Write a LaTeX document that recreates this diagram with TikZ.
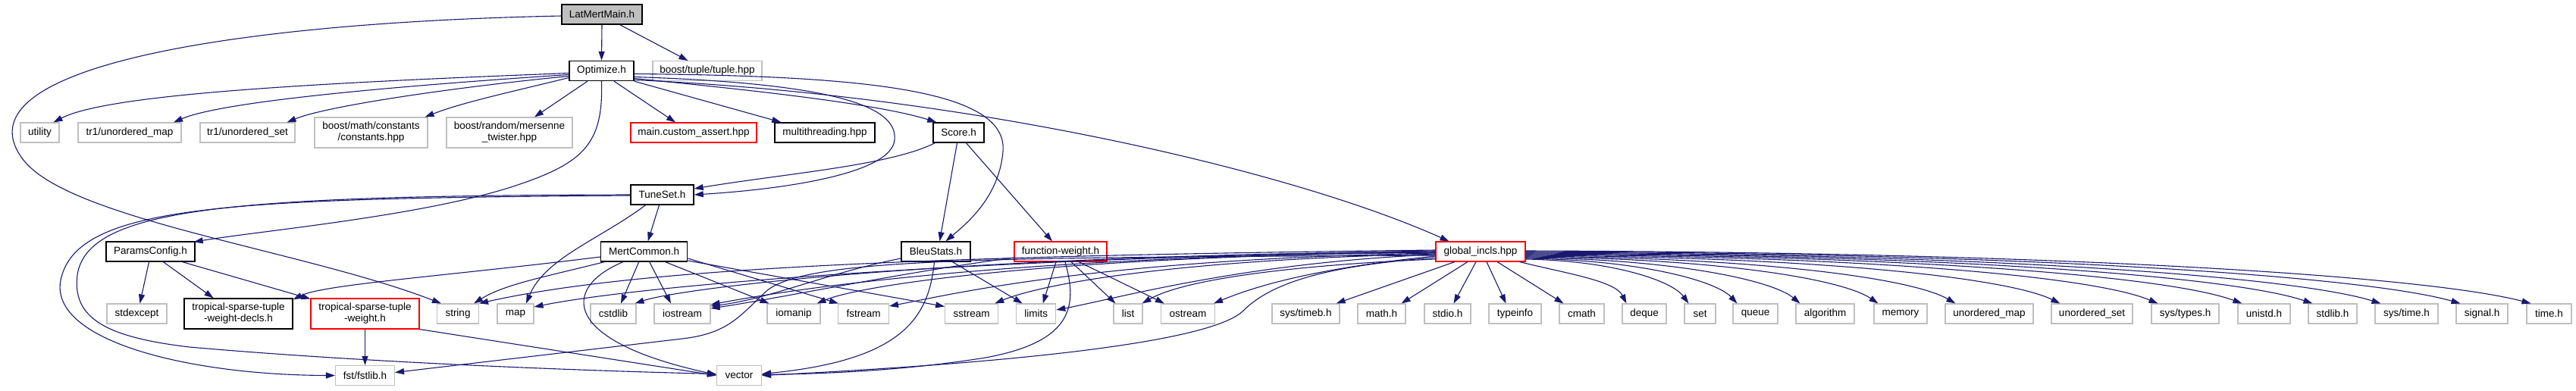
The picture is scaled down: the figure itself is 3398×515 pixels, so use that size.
\documentclass[tikz,border=0pt]{standalone}
\usepackage{fontspec}
\setmainfont{Liberation Sans}
\usetikzlibrary{arrows.meta,calc}
\definecolor{edgec}{HTML}{191970}
\definecolor{grayb}{HTML}{BFBFBF}
\definecolor{redb}{HTML}{FF0000}
\begin{document}
\begin{tikzpicture}[x=1pt,y=-1pt,
  box/.style={draw=black, line width=1.4pt, fill=white, inner sep=0pt, minimum height=26pt, align=center, font=\fontsize{13.5}{15}\selectfont},
  gbox/.style={box, draw=grayb, line width=1.1pt},
  rbox/.style={box, draw=redb, line width=1.1pt},
  tall/.style={minimum height=40pt},
  edge/.style={draw=edgec, line width=1.1pt, -{Triangle[length=12pt,width=8pt]}}
]
\useasboundingbox[fill=white] (0,0) rectangle (3398,515);
% row 0/1
\node[box, fill=grayb, minimum width=106pt] (main) at (794,19) {LatMertMain.h};
\node[box, minimum width=85pt] (opt) at (793.5,93.5) {Optimize.h};
\node[gbox, minimum width=144pt] (tuple) at (933,93.5) {boost/tuple/tuple.hpp};
% row 2
\node[gbox, minimum width=51pt] (utility) at (52.5,175) {utility};
\node[gbox, minimum width=136pt] (tr1map) at (171,175) {tr1/unordered\_map};
\node[gbox, minimum width=125pt] (tr1set) at (326.5,175) {tr1/unordered\_set};
\node[gbox, tall, minimum width=149pt] (bmath) at (489.5,175) {boost/math/constants\\/constants.hpp};
\node[gbox, tall, minimum width=166pt] (brand) at (672,175) {boost/random/mersenne\\\_twister.hpp};
\node[rbox, minimum width=166pt] (assert) at (915,175) {main.custom\_assert.hpp};
\node[box, minimum width=132pt] (mt) at (1088,175) {multithreading.hpp};
\node[box, minimum width=67pt] (score) at (1264.5,175) {Score.h};
% row 3
\node[box, minimum width=83pt] (tuneset) at (873.5,257) {TuneSet.h};
% row 4
\node[box, minimum width=117pt] (params) at (198.5,332) {ParamsConfig.h};
\node[box, minimum width=114pt] (mertc) at (849.7,332) {MertCommon.h};
\node[box, minimum width=91pt] (bleu) at (1234.5,332) {BleuStats.h};
\node[rbox, minimum width=122pt] (fw) at (1399,332) {function-weight.h};
\node[rbox, minimum width=118pt] (glob) at (1953,332) {global\_incls.hpp};
% row 5
\node[gbox, minimum width=79pt] (stdexcept) at (180.5,414) {stdexcept};
\node[box, tall, minimum width=143pt] (tsdecls) at (314.5,414) {tropical-sparse-tuple\\-weight-decls.h};
\node[rbox, tall, minimum width=143pt] (tsweight) at (481.5,414) {tropical-sparse-tuple\\-weight.h};
\node[gbox, minimum width=55pt] (string) at (604,414) {string};
\node[gbox, minimum width=48pt] (map) at (680,414) {map};
\node[gbox, minimum width=60pt] (cstdlib) at (809,414) {cstdlib};
\node[gbox, minimum width=74pt] (iostream) at (900,414) {iostream};
\node[gbox, minimum width=70pt] (iomanip) at (1047,414) {iomanip};
\node[gbox, minimum width=67pt] (fstream) at (1139,414) {fstream};
\node[gbox, minimum width=70pt] (sstream) at (1281.7,414) {sstream};
\node[gbox, minimum width=52pt] (limits) at (1366.7,414) {limits};
\node[gbox, minimum width=38pt] (list) at (1488,414) {list};
\node[gbox, minimum width=71pt] (ostream) at (1567,414) {ostream};
\node[gbox, minimum width=89pt] (systimeb) at (1722.5,414) {sys/timeb.h};
\node[gbox, minimum width=63pt] (math) at (1822.5,414) {math.h};
\node[gbox, minimum width=61pt] (stdio) at (1909.5,414) {stdio.h};
\node[gbox, minimum width=69pt] (typeinfo) at (1998.5,414) {typeinfo};
\node[gbox, minimum width=59pt] (cmath) at (2086.5,414) {cmath};
\node[gbox, minimum width=58pt] (deque) at (2169,414) {deque};
\node[gbox, minimum width=41pt] (set) at (2242.5,414) {set};
\node[gbox, minimum width=59pt] (queue) at (2315.5,414) {queue};
\node[gbox, minimum width=77pt] (algorithm) at (2407.5,414) {algorithm};
\node[gbox, minimum width=70pt] (memory) at (2507,414) {memory};
\node[gbox, minimum width=116pt] (umap) at (2624,414) {unordered\_map};
\node[gbox, minimum width=107pt] (uset) at (2759.5,414) {unordered\_set};
\node[gbox, minimum width=89pt] (systypes) at (2882.5,414) {sys/types.h};
\node[gbox, minimum width=69pt] (unistd) at (2986.5,414) {unistd.h};
\node[gbox, minimum width=64pt] (stdlib) at (3077,414) {stdlib.h};
\node[gbox, minimum width=83pt] (systime) at (3174.5,414) {sys/time.h};
\node[gbox, minimum width=68pt] (signal) at (3274,414) {signal.h};
\node[gbox, minimum width=59pt] (timeh) at (3362.5,414) {time.h};
% row 6
\node[gbox, minimum width=78pt] (fstlib) at (481.5,495.5) {fst/fstlib.h};
\node[gbox, minimum width=59pt] (vector) at (975,495.5) {vector};

% ---- edges: LatMertMain
\draw[edge] (main.south) -- (opt.north);
\draw[edge] ($(main.south east)+(-30,0)$) -- ($(tuple.north west)+(47,0)$);
\draw[edge] ($(main.west)+(0,2)$) .. controls (300,30) and (-60,90) .. (30,210) .. controls (90,290) and (400,330) .. ($(string.north west)+(6,0)$);
% ---- Optimize
\draw[edge] ($(opt.west)+(0,3)$) .. controls (400,110) and (140,125) .. ($(utility.north)+(18,0)$);
\draw[edge] ($(opt.west)+(0,5)$) .. controls (500,115) and (290,135) .. ($(tr1map.north)+(58,0)$);
\draw[edge] ($(opt.west)+(0,7)$) .. controls (600,115) and (430,140) .. ($(tr1set.north)+(52,0)$);
\draw[edge] ($(opt.west)+(0,9)$) .. controls (680,120) and (610,135) .. ($(bmath.north east)+(-4,0)$);
\draw[edge] ($(opt.south)+(-18.5,0)$) -- ($(brand.north)+(33,0)$);
\draw[edge] ($(opt.south)+(16.5,0)$) -- ($(assert.north)+(-24,0)$);
\draw[edge] (opt.south east) -- ($(mt.north west)+(9,0)$);
\draw[edge] ($(opt.east)+(0,10)$) .. controls +(150,15) and +(-80,-25) .. ($(score.north west)+(5,0)$);
\draw[edge] ($(opt.east)+(0,8)$) .. controls (1100,110) and (1185,140) .. (1180,185) .. controls (1175,230) and (1030,250) .. (tuneset.east);
\draw[edge] ($(opt.east)+(0,4)$) .. controls (1150,100) and (1330,120) .. (1323,200) .. controls (1318,260) and (1275,295) .. ($(bleu.north)+(13,0)$);
\draw[edge] ($(opt.east)+(0,12)$) .. controls +(450,20) and +(-200,-90) .. ($(glob.north west)+(18,0)$);
\draw[edge] (opt.south) .. controls (796,190) and (770,215) .. (680,245) .. controls (560,285) and (340,305) .. ($(params.north east)+(-2,1)$);
% ---- Score
\draw[edge] ($(score.south west)+(3,0)$) .. controls +(-60,30) and +(120,-20) .. ($(tuneset.east)+(0,-8)$);
\draw[edge] ($(score.south)+(-2,0)$) -- ($(bleu.north)+(5,0)$);
\draw[edge] ($(score.south)+(10,0)$) -- ($(fw.north)+(-11,0)$);
% ---- TuneSet
\draw[edge] ($(tuneset.south)+(-4,0)$) -- ($(mertc.north)+(5,0)$);
\draw[edge] ($(tuneset.south)+(-22,0)$) .. controls +(-60,45) and +(25,-60) .. ($(map.north)+(14,0)$);
\draw[edge] ($(tuneset.west)+(0,1)$) .. controls (300,262) and (100,270) .. (80,370) .. controls (65,450) and (250,495) .. (fstlib.west);
\draw[edge] ($(tuneset.west)+(0,0)$) .. controls (300,258) and (115,275) .. (102,363) .. controls (95,420) and (140,445) .. (250,458) .. controls (500,480) and (800,490) .. ($(vector.west)+(0,-2)$);
% ---- ParamsConfig
\draw[edge] ($(params.south)+(-2,0)$) -- ($(stdexcept.north)+(4,0)$);
\draw[edge] ($(params.south)+(17,0)$) -- ($(tsdecls.north)+(-33,0)$);
\draw[edge] ($(params.south east)+(-17,0)$) -- ($(tsweight.north west)+(0,1)$);
% ---- tropical-sparse-tuple-weight
\draw[edge] (tsweight.south) -- (fstlib.north);
\draw[edge] (tsweight.south east) -- ($(vector.west)+(0,0)$);
% ---- MertCommon
\draw[edge] ($(mertc.west)+(0,7)$) .. controls +(-200,25) and +(40,-20) .. ($(tsdecls.north east)+(0,2)$);
\draw[edge] ($(mertc.south west)+(5,0)$) .. controls +(-80,20) and +(40,-25) .. ($(string.north east)+(-7,0)$);
\draw[edge] ($(mertc.south)+(-7,0)$) -- ($(cstdlib.north)+(10,0)$);
\draw[edge] ($(mertc.south)+(7,0)$) -- ($(iostream.north)+(-15,0)$);
\draw[edge] ($(mertc.south)+(28,0)$) -- ($(iomanip.north west)+(3,0)$);
\draw[edge] ($(mertc.east)+(0,9)$) -- ($(fstream.north west)+(1,0)$);
\draw[edge] ($(mertc.east)+(0,12)$) -- ($(sstream.north west)+(0,4)$);
\draw[edge] ($(mertc.south)+(-28,0)$) .. controls (740,380) and (740,450) .. ($(vector.west)+(0,-1)$);
% ---- BleuStats
\draw[edge] ($(bleu.south)+(-2,0)$) .. controls (1225,420) and (1190,475) .. ($(vector.east)+(0,-2)$);
\draw[edge] ($(bleu.south)+(22,0)$) -- ($(limits.north)+(-18,0)$);
\draw[edge] ($(bleu.west)+(0,9)$) .. controls +(-100,20) and +(80,-10) .. ($(iostream.east)+(0,-10)$);
% ---- function-weight
\draw[edge] ($(fw.south)+(-6,0)$) -- ($(limits.north)+(9,0)$);
\draw[edge] ($(fw.south)+(14,0)$) -- ($(list.north west)+(3,0)$);
\draw[edge] ($(fw.south)+(24,0)$) -- ($(ostream.north west)+(5,0)$);
\draw[edge] ($(fw.south)+(6,0)$) .. controls (1420,400) and (1420,450) .. (1300,472) .. controls (1200,488) and (1100,493) .. ($(vector.east)+(0,-1)$);
\draw[edge] ($(fw.west)+(0,8)$) .. controls +(-150,20) and +(100,-15) .. ($(iostream.east)+(0,-7)$);
% ---- global_incls left side
\draw[edge] ($(glob.west)+(0,-2)$) .. controls +(-700,8) and +(200,-45) .. ($(string.north east)+(0,0)$);
\draw[edge] ($(glob.west)+(0,-1)$) .. controls +(-600,10) and +(150,-30) .. ($(map.east)+(0,-9)$);
\draw[edge] ($(glob.west)+(0,0)$) .. controls +(-650,5) and +(60,-20) .. ($(cstdlib.north east)+(-2,0)$);
\draw[edge] ($(glob.west)+(0,1)$) .. controls +(-600,5) and +(80,-15) .. ($(iostream.east)+(0,-12)$);
\draw[edge] ($(glob.west)+(0,1)$) .. controls +(-500,5) and +(60,-25) .. ($(iomanip.north east)+(-5,0)$);
\draw[edge] ($(glob.west)+(0,2)$) .. controls +(-450,8) and +(80,-15) .. ($(fstream.east)+(0,-10)$);
\draw[edge] ($(glob.west)+(0,3)$) .. controls +(-350,8) and +(60,-25) .. ($(sstream.north east)+(-5,0)$);
\draw[edge] ($(glob.west)+(0,4)$) .. controls +(-250,10) and +(80,-15) .. ($(limits.east)+(0,-5)$);
\draw[edge] ($(glob.west)+(0,10)$) .. controls +(-194,8) and +(54,-31) .. ($(list.north east)+(-1,0)$);
\draw[edge] ($(glob.west)+(0,6)$) .. controls +(-150,15) and +(60,-25) .. ($(ostream.north east)+(-2,0)$);
\draw[edge] ($(glob.west)+(0,5)$) .. controls (1300,340) and (1060,340) .. (1010,385) .. controls (975,418) and (960,440) .. (900,447) -- ($(fstlib.east)+(0,-4)$);
\draw[edge] ($(glob.west)+(0,8)$) .. controls (1760,350) and (1680,370) .. (1640,410) .. controls (1600,450) and (1355,478) .. (vector.east);
% ---- global_incls down
\draw[edge] ($(glob.south)+(-34,0)$) -- ($(systimeb.north east)+(-5,0)$);
\draw[edge] ($(glob.south)+(-17,0)$) -- ($(math.north east)+(-6,0)$);
\draw[edge] ($(glob.south)+(-6,0)$) -- ($(stdio.north)+(8,0)$);
\draw[edge] ($(glob.south)+(8,0)$) -- ($(typeinfo.north)+(-12,0)$);
\draw[edge] ($(glob.south)+(22,0)$) -- ($(cmath.north west)+(6,0)$);
% ---- global_incls right side
\draw[edge] ($(glob.south east)+(-8,0)$) .. controls +(60,15) and +(-15,-30) .. ($(deque.north west)+(6,0)$);
\draw[edge] ($(glob.east)+(0,10)$) .. controls +(115,2) and +(-22,-30) .. ($(set.north west)+(6,0)$);
\draw[edge] ($(glob.east)+(0,9)$) .. controls +(150,2) and +(-28,-30) .. ($(queue.north west)+(6,0)$);
\draw[edge] ($(glob.east)+(0,8)$) .. controls +(200,2) and +(-36,-30) .. ($(algorithm.north west)+(6,0)$);
\draw[edge] ($(glob.east)+(0,7)$) .. controls +(256,2) and +(-47,-32) .. ($(memory.north west)+(6,0)$);
\draw[edge] ($(glob.east)+(0,6)$) .. controls +(312,2) and +(-57,-33) .. ($(umap.north west)+(14,0)$);
\draw[edge] ($(glob.east)+(0,5)$) .. controls +(388,2) and +(-70,-34) .. ($(uset.north west)+(12,0)$);
\draw[edge] ($(glob.east)+(0,4)$) .. controls +(460,2) and +(-84,-35) .. ($(systypes.north west)+(9,0)$);
\draw[edge] ($(glob.east)+(0,3)$) .. controls +(520,2) and +(-95,-35) .. ($(unistd.north west)+(6,0)$);
\draw[edge] ($(glob.east)+(0,2)$) .. controls +(570,2) and +(-104,-35) .. ($(stdlib.north west)+(6,0)$);
\draw[edge] ($(glob.east)+(0,1)$) .. controls +(620,2) and +(-113,-35) .. ($(systime.north west)+(8,0)$);
\draw[edge] ($(glob.east)+(0,0)$) .. controls +(680,2) and +(-123,-35) .. ($(signal.north west)+(6,0)$);
\draw[edge] ($(glob.east)+(0,-1)$) .. controls +(730,2) and +(-133,-35) .. ($(timeh.north west)+(6,0)$);
\end{tikzpicture}
\end{document}
